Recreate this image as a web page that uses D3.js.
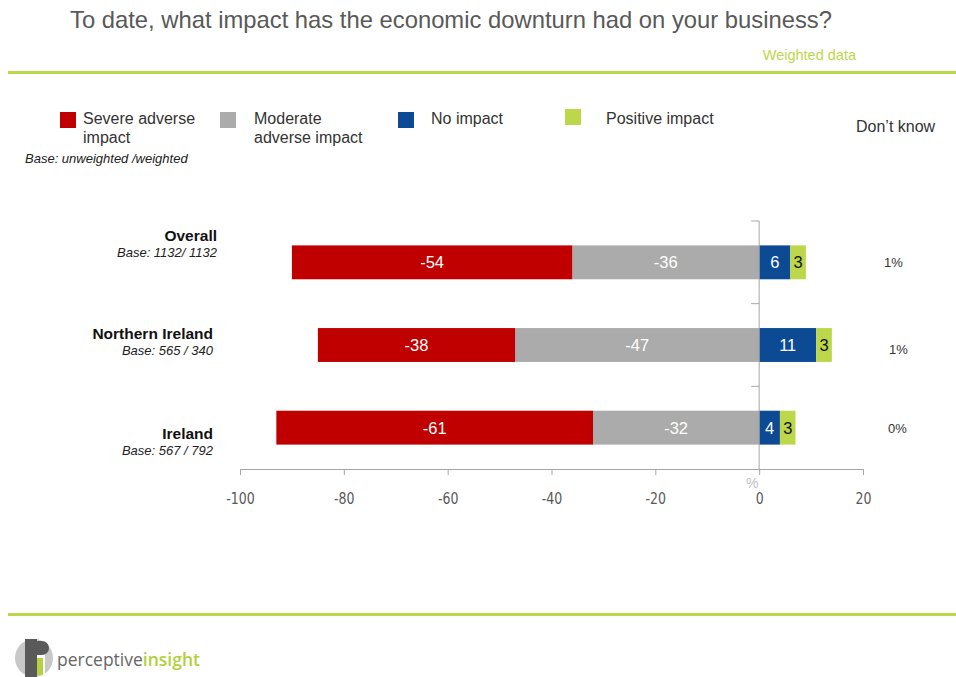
<!DOCTYPE html>
<html>
<head>
<meta charset="utf-8">
<script src="https://cdn.jsdelivr.net/npm/d3@7"></script>
<style>
  html, body { margin: 0; padding: 0; background: #fff; }
  svg { display: block; font-family: "Liberation Sans", Arial, sans-serif; }
</style>
</head>
<body>
<svg id="chart" width="956" height="677"></svg>
<script>
// Survey answers per region (percent of businesses)
const categories = ["Overall", "Northern Ireland", "Ireland"];
const bases = ["Base: 1132/ 1132", "Base: 565 / 340", "Base: 567 / 792"];
const severe = [-54, -38, -61];
const moderate = [-36, -47, -32];
const noImpact = [6, 11, 4];
const positive = [3, 3, 3];
const dontKnow = ["1%", "1%", "0%"];
const xTicks = [-100, -80, -60, -40, -20, 0, 20];

const colors = {
  severe: "#c00000", moderate: "#ababab", none: "#0d4a94", positive: "#bdd74b"
};
const green = "#bdd74b";

const svg = d3.select("#chart");

// Header
svg.append("text").attr("x", 70).attr("y", 28)
  .attr("font-size", 23.8).attr("fill", "#595959")
  .text("To date, what impact has the economic downturn had on your business?");
svg.append("text").attr("x", 856).attr("y", 60).attr("text-anchor", "end")
  .attr("font-size", 14.5).attr("fill", green).text("Weighted data");
svg.append("rect").attr("x", 8).attr("y", 71).attr("width", 948).attr("height", 3).attr("fill", green);
svg.append("rect").attr("x", 8).attr("y", 613).attr("width", 948).attr("height", 3).attr("fill", green);

// Legend
const legend = [
  { color: colors.severe, x: 60, lines: ["Severe adverse", "impact"], tx: 83, sy: 112 },
  { color: colors.moderate, x: 220, lines: ["Moderate", "adverse impact"], tx: 254, sy: 112 },
  { color: colors.none, x: 398, lines: ["No impact"], tx: 431, sy: 112 },
  { color: colors.positive, x: 565, lines: ["Positive impact"], tx: 606, sy: 109 }
];
legend.forEach(d => {
  svg.append("rect").attr("x", d.x).attr("y", d.sy).attr("width", 16).attr("height", 16).attr("fill", d.color);
  const t = svg.append("text").attr("x", d.tx).attr("y", 124)
    .attr("font-size", 16).attr("fill", "#333");
  d.lines.forEach((l, j) => t.append("tspan").attr("x", d.tx).attr("dy", j ? 19 : 0).text(l));
});
svg.append("text").attr("x", 856).attr("y", 132).attr("font-size", 16).attr("fill", "#333").text("Don\u2019t know");
svg.append("text").attr("x", 25).attr("y", 163).attr("font-size", 13).attr("font-style", "italic")
  .attr("fill", "#222").text("Base: unweighted /weighted");

// Scales
const x = d3.scaleLinear().domain([-100, 20]).range([240, 863]);
const y = d3.scaleBand().domain(categories).range([221, 469]).paddingInner(0.59).paddingOuter(0.295);

const g = svg.append("g");

// Stacked segments: negatives stack leftwards from 0, positives rightwards
const rows = categories.map((c, i) => ({
  c,
  segs: [
    { key: "moderate", x0: 0, x1: moderate[i], v: moderate[i], txt: "#fff" },
    { key: "severe", x0: moderate[i], x1: moderate[i] + severe[i], v: severe[i], txt: "#fff" },
    { key: "none", x0: 0, x1: noImpact[i], v: noImpact[i], txt: "#fff" },
    { key: "positive", x0: noImpact[i], x1: noImpact[i] + positive[i], v: positive[i], txt: "#111" }
  ]
}));

rows.forEach(r => {
  r.segs.forEach(s => {
    const a = x(Math.min(s.x0, s.x1)), b = x(Math.max(s.x0, s.x1));
    g.append("rect").attr("x", a).attr("y", y(r.c)).attr("width", b - a).attr("height", y.bandwidth())
      .attr("fill", colors[s.key]);
    g.append("text").attr("x", (a + b) / 2).attr("y", y(r.c) + y.bandwidth() / 2 + 6)
      .attr("text-anchor", "middle").attr("font-size", 16.5).attr("fill", s.txt).text(s.v);
  });
});

// Axes
const axisColor = "#a6a6a6";
const xAxis = svg.append("g").attr("transform", "translate(0,469)")
  .call(d3.axisBottom(x).tickValues(xTicks).tickFormat(d => String(d))
    .tickSize(6).tickSizeOuter(0).tickPadding(18));
xAxis.select(".domain").attr("stroke", axisColor);
xAxis.selectAll(".tick line").attr("stroke", axisColor);
xAxis.selectAll(".tick text").attr("fill", "#595959").attr("font-size", 15.5)
  .attr("font-family", "'Liberation Sans Narrow', 'DejaVu Sans Condensed', 'Arial Narrow', sans-serif")
  .attr("transform", "scale(0.9,1)")
  .attr("x", 0);

const yAxis = svg.append("g").attr("transform", `translate(${x(0)},0)`);
yAxis.append("line").attr("y1", 221).attr("y2", 469).attr("stroke", axisColor);
const bandEdges = [221].concat(categories.slice(0, 2).map(c => y(c) + y.bandwidth() + (y.step() - y.bandwidth()) / 2));
bandEdges.forEach(t =>
  yAxis.append("line").attr("x1", -8).attr("x2", 0).attr("y1", t).attr("y2", t).attr("stroke", axisColor));

svg.append("text").attr("x", x(0) - 7).attr("y", 488).attr("text-anchor", "middle")
  .attr("font-size", 14).attr("fill", "#bfbfbf").text("%");

// Category labels
const labelX = [217, 213, 213];
const labelBase = [241, 339, 439];
const dkX = [884, 889, 888];
categories.forEach((c, i) => {
  svg.append("text").attr("x", labelX[i]).attr("y", labelBase[i]).attr("text-anchor", "end")
    .attr("font-size", 15.5).attr("font-weight", "bold").attr("fill", "#111").text(c);
  svg.append("text").attr("x", labelX[i]).attr("y", labelBase[i] + 16).attr("text-anchor", "end")
    .attr("font-size", 13).attr("font-style", "italic").attr("fill", "#222").text(bases[i]);
  const cy = y(c) + y.bandwidth() / 2 + (i === 1 ? 4 : 0);
  svg.append("text").attr("x", dkX[i]).attr("y", cy + 5)
    .attr("font-size", 13).attr("fill", "#333").text(dontKnow[i]);
});

// Logo
const logo = svg.append("g").attr("transform", "translate(34,658)");
logo.append("circle").attr("r", 19).attr("fill", "#c8c8c8");
logo.append("rect").attr("x", -9).attr("y", -19).attr("width", 12).attr("height", 38).attr("fill", "#5a5a5a");
logo.append("rect").attr("x", 3).attr("y", -17).attr("width", 8).attr("height", 34).attr("fill", "#fff");
logo.append("path").attr("d", "M3,-17 h5 a7,7 0 0 1 0,14 h-5 z").attr("fill", "#5a5a5a");
logo.append("rect").attr("x", 3).attr("y", 0).attr("width", 6).attr("height", 17).attr("fill", "#b6d03f");
const lt = svg.append("text").attr("x", 57).attr("y", 666).attr("font-size", 17.5).attr("fill", "#666")
  .attr("font-family", "'Open Sans', sans-serif");
lt.append("tspan").text("perceptive");
lt.append("tspan").attr("fill", "#b3cf3c").attr("font-weight", "600").text("insight");
</script>
</body>
</html>
